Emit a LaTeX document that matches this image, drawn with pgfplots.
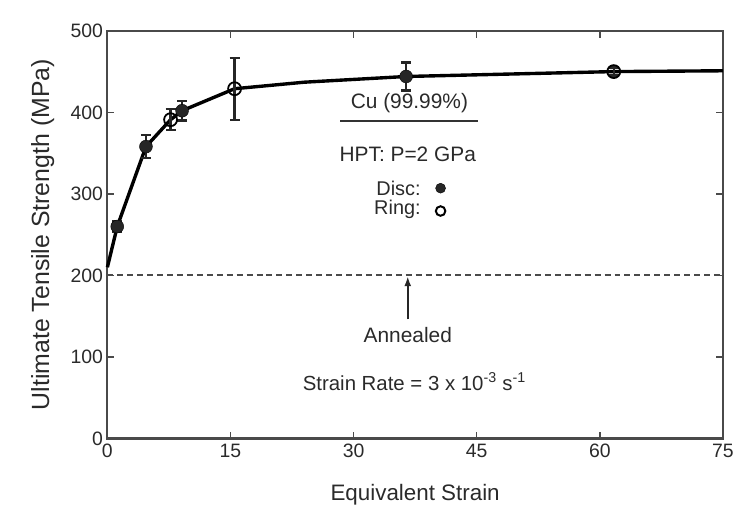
\documentclass[border=0pt]{standalone}
\usepackage{pgfplots}
\pgfplotsset{compat=1.18}
\usetikzlibrary{arrows.meta}
\usepackage{fontspec}
\setmainfont{Liberation Sans}
\definecolor{txt}{HTML}{2A2A2A}
\definecolor{frame}{HTML}{4A4A4A}
\begin{document}
\begin{tikzpicture}
\begin{axis}[
  scale only axis, width=619pt, height=410pt,
  xmin=0, xmax=75, ymin=0, ymax=500,
  xtick={0,15,30,45,60,75}, ytick={0,100,200,300,400,500},
  tick align=inside, major tick length=7pt,
  tick style={line width=1.6pt, frame},
  axis line style={line width=2.2pt, frame},
  /pgf/number format/assume math mode=true,
  ticklabel style={font=\fontsize{19.5}{21}\selectfont, text=txt},
  xticklabel style={yshift=-2pt},
  yticklabel style={xshift=-1pt},
  xlabel={Equivalent Strain},
  ylabel={Ultimate Tensile Strength (MPa)},
  xlabel style={font=\fontsize{22.5}{24}\selectfont, text=txt, at={(axis description cs:0.5,-0.137)}, anchor=center},
  ylabel style={font=\fontsize{25}{27}\selectfont, text=txt, at={(axis description cs:-0.105,0.5)}, anchor=center},
  clip=false,
]
% annealed dashed line
\addplot[frame, line width=2pt, dash pattern=on 6pt off 4pt] coordinates {(0,200) (75,200)};
% fitted curve
\addplot[black, line width=3.4pt, line join=round] coordinates {
 (0,210) (1.2,260) (4.7,358) (7.7,391) (9.1,402) (15.5,429) (24,437) (36.4,444) (61.7,450) (75,451)};
% disc (filled)
\addplot[black, only marks, mark=*, mark size=6.5pt, mark options={fill=black!85},
  error bars/.cd, y dir=both, y explicit,
  error bar style={line width=2.4pt, black!85},
  error mark options={rotate=90, mark size=5pt, line width=2.4pt}]
  coordinates {(1.2,260) +- (0,6) (4.7,358) +- (0,14) (9.1,402) +- (0,12) (36.4,444) +- (0,17)};
% ring (open)
\addplot[black, only marks, mark=o, mark size=6.5pt, mark options={line width=1.8pt, fill=white},
  error bars/.cd, y dir=both, y explicit,
  error bar style={line width=2.4pt, black!85},
  error mark options={rotate=90, mark size=5pt, line width=2.4pt}]
  coordinates {(7.7,391) +- (0,13) (15.5,429) +- (0,38) (61.7,450) +- (0,5)};
% legend markers
\addplot[black, only marks, mark=*, mark size=5pt, mark options={fill=black!85}] coordinates {(40.6,307)};
\addplot[black, only marks, mark=o, mark size=4.8pt, mark options={line width=2pt}] coordinates {(40.6,279)};
% underline
\addplot[black!80, line width=2.2pt] coordinates {(28.4,389) (45.1,389)};
% arrow
\draw[-{Latex[length=10pt,width=7pt]}, line width=1.8pt, black!85] (axis cs:36.6,146) -- (axis cs:36.6,199);
\node[font=\fontsize{21}{23}\selectfont, text=txt] at (axis cs:36.8,411) {Cu (99.99\%)};
\node[font=\fontsize{21}{23}\selectfont, text=txt] at (axis cs:36.6,349) {HPT: P=2 GPa};
\node[font=\fontsize{20}{22}\selectfont, text=txt, anchor=east] at (axis cs:38.6,307) {Disc:};
\node[font=\fontsize{20}{22}\selectfont, text=txt, anchor=east] at (axis cs:38.6,281) {Ring:};
\node[font=\fontsize{21}{23}\selectfont, text=txt] at (axis cs:36.6,127) {Annealed};
\node[font=\fontsize{20.5}{22}\selectfont, text=txt] at (axis cs:37.4,70) {Strain Rate = 3 x 10\textsuperscript{-3} s\textsuperscript{-1}};
\end{axis}
\path ([xshift=-108pt,yshift=-72pt]current axis.south west) rectangle ([xshift=10pt,yshift=31pt]current axis.north east);
\end{tikzpicture}
\end{document}
